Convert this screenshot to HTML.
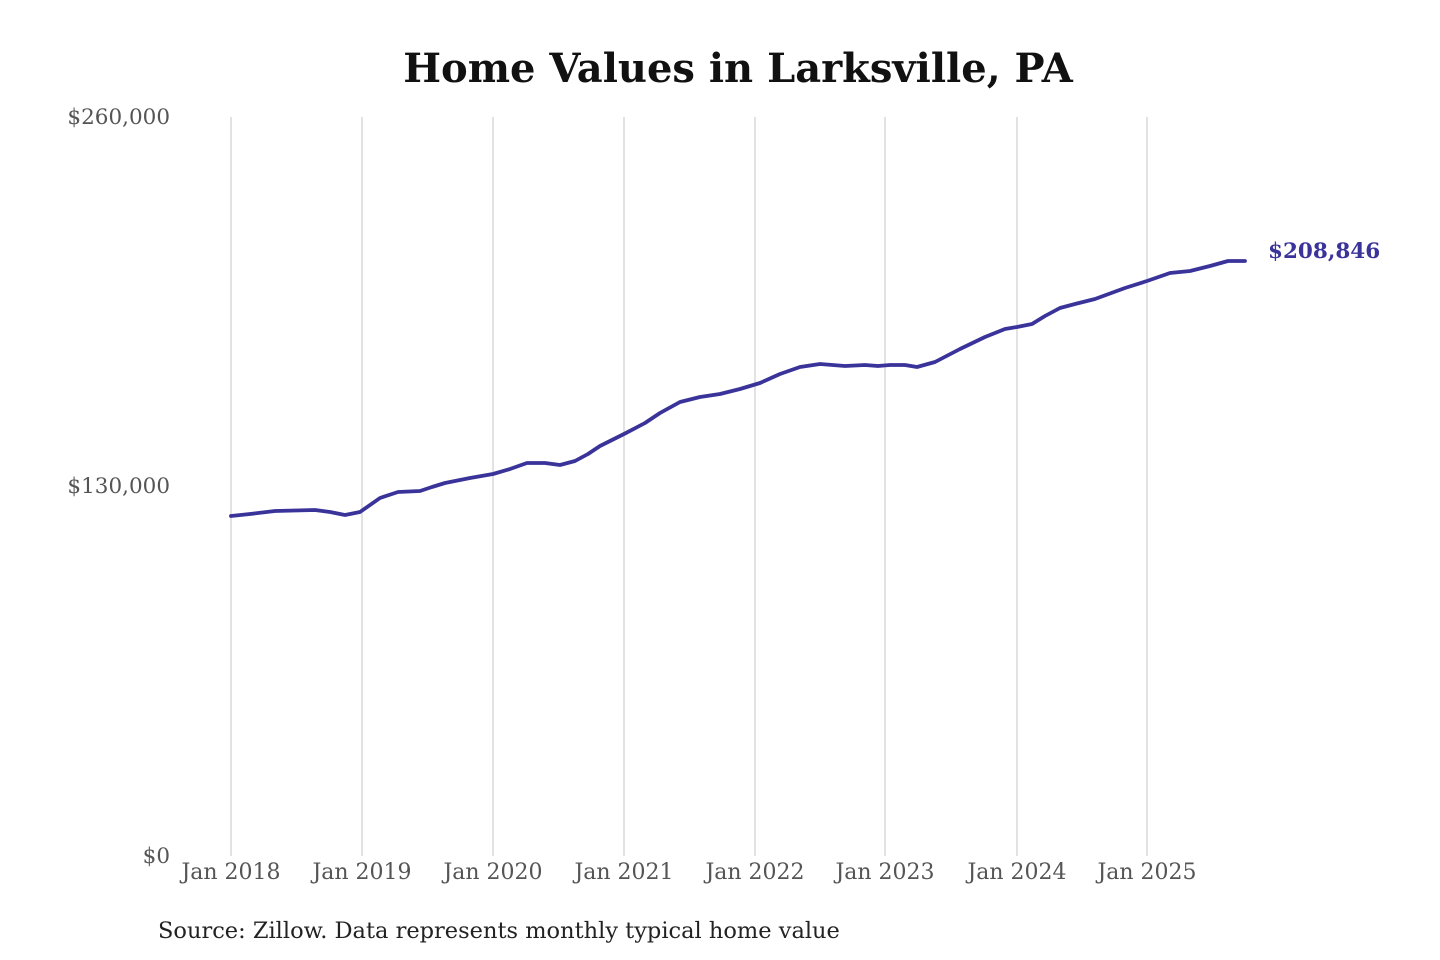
<!DOCTYPE html>
<html><head><meta charset="utf-8"><style>
html,body{margin:0;padding:0;background:#fff;}
svg{display:block;}
text{font-family:"DejaVu Serif","Liberation Serif",serif;}
</style></head><body>
<svg width="1440" height="960" viewBox="0 0 1440 960" xmlns="http://www.w3.org/2000/svg">
<text x="738" y="82" text-anchor="middle" font-size="40" font-weight="bold" fill="#111">Home Values in Larksville, PA</text>
<g stroke="#c4c4c4" stroke-width="1">
<line x1="231" y1="117" x2="231" y2="856"/>
<line x1="362" y1="117" x2="362" y2="856"/>
<line x1="493" y1="117" x2="493" y2="856"/>
<line x1="624" y1="117" x2="624" y2="856"/>
<line x1="755" y1="117" x2="755" y2="856"/>
<line x1="885" y1="117" x2="885" y2="856"/>
<line x1="1017" y1="117" x2="1017" y2="856"/>
<line x1="1147" y1="117" x2="1147" y2="856"/>
</g>
<g font-size="21.5" fill="#555" text-anchor="end">
<text x="170" y="124">$260,000</text>
<text x="170" y="493">$130,000</text>
<text x="170" y="863">$0</text>
</g>
<g font-size="22" fill="#555" text-anchor="middle">
<text x="231" y="879">Jan 2018</text>
<text x="362" y="879">Jan 2019</text>
<text x="493" y="879">Jan 2020</text>
<text x="624" y="879">Jan 2021</text>
<text x="755" y="879">Jan 2022</text>
<text x="885" y="879">Jan 2023</text>
<text x="1017" y="879">Jan 2024</text>
<text x="1147" y="879">Jan 2025</text>
</g>
<polyline fill="none" stroke="#3a339a" stroke-width="3.8" stroke-linejoin="round" stroke-linecap="round"
points="231,516 250,514 275,511 315,510 330,512 345,515 360,512 380,498 398,492 420,491 432,487 445,483 470,478 493,474 510,469 527,463 545,463 560,465 575,461 588,454 600,446 624,434 645,423 660,413 680,402 700,397 720,394 740,389 760,383 780,374 800,367 820,364 845,366 865,365 878,366 890,365 905,365 917,367 935,362 960,349 985,337 1005,329 1017,327 1032,324 1045,316 1060,308 1075,304 1095,299 1125,288 1147,281 1170,273 1190,271 1210,266 1228,261 1245,261"/>
<text x="1268" y="258" font-size="21.5" font-weight="bold" fill="#3a339a">$208,846</text>
<text x="158" y="938" font-size="22.5" fill="#222">Source: Zillow. Data represents monthly typical home value</text>
</svg>
</body></html>
